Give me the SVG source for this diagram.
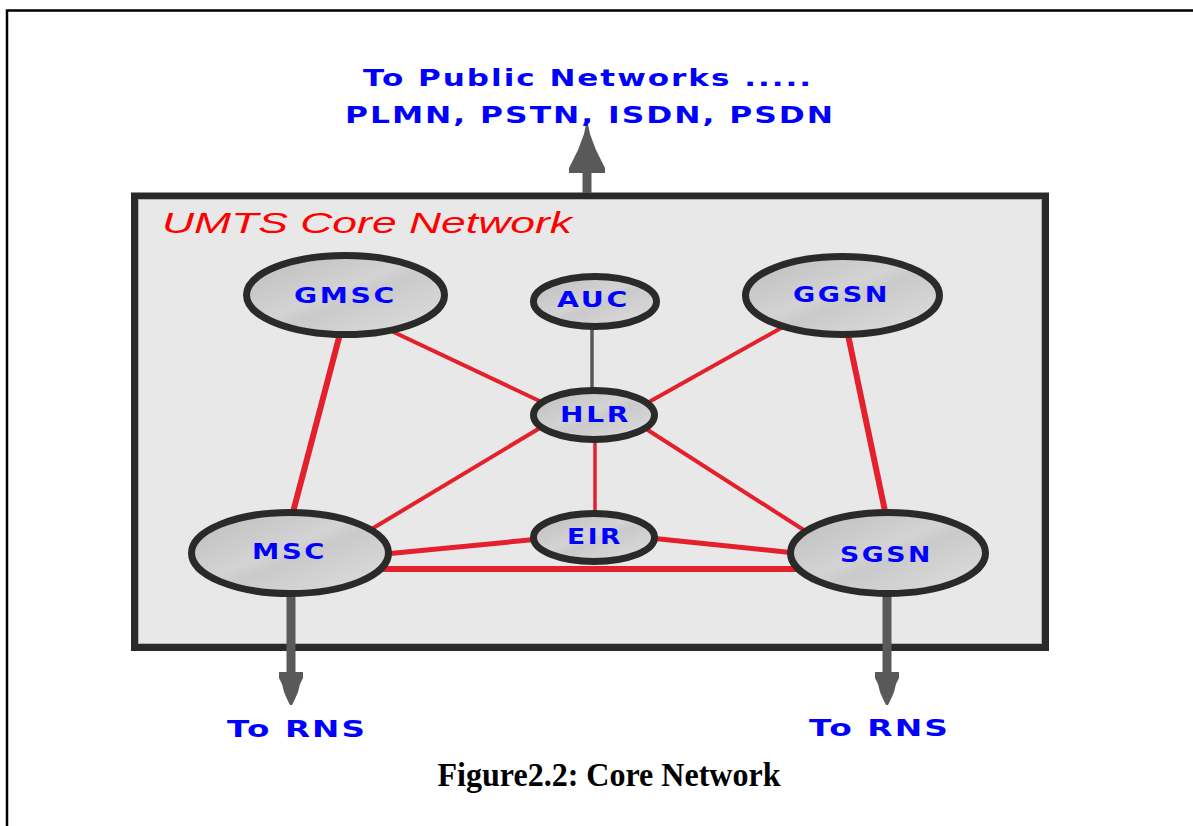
<svg xmlns="http://www.w3.org/2000/svg" width="1193" height="826" viewBox="0 0 1193 826">
<style>
.frame{fill:none;stroke:#000;stroke-width:2.5}
.node{fill:url(#ng);stroke:#2a2a28;stroke-width:7}
.lbl{font-family:"DejaVu Sans",sans-serif;font-weight:bold;font-size:21px;fill:#0000ff;text-anchor:middle;letter-spacing:2px}
.ext{font-family:"DejaVu Sans",sans-serif;font-weight:bold;font-size:23.5px;fill:#0000ff;letter-spacing:1.5px}
.red{stroke:#e3202b;fill:none;stroke-linecap:butt}
.gray{stroke:#595959;fill:none}
.head{fill:#595959}
</style>
<defs>
<linearGradient id="ng" x1="0" y1="0" x2="1" y2="1">
<stop offset="0" stop-color="#bbbcbb"/>
<stop offset="0.45" stop-color="#d2d3d2"/>
<stop offset="0.55" stop-color="#c9cac9"/>
<stop offset="1" stop-color="#dfe0df"/>
</linearGradient>
</defs>
<rect width="1193" height="826" fill="#fff"/>
<path class="frame" d="M7,826 V10.5 H1193"/>

<g id="core-network">
<rect x="134.5" y="196" width="911" height="451.5" fill="#e8e8e8" stroke="#2a2a28" stroke-width="7"/>
<rect x="138.5" y="199.5" width="903" height="444" fill="none" stroke="#b4b4b4" stroke-width="1"/>
<text x="162" y="233" font-family="Liberation Sans, Arial, sans-serif" font-style="italic" font-size="29.5" fill="#ff0000" textLength="410" lengthAdjust="spacingAndGlyphs">UMTS Core Network</text>
</g>

<g id="connectors">
<line class="gray" x1="592" y1="325" x2="592" y2="392" stroke-width="3.5"/>
<line class="red" x1="341" y1="330" x2="292" y2="516" stroke-width="6"/>
<line class="red" x1="385" y1="328" x2="548" y2="405" stroke-width="4"/>
<line class="red" x1="790" y1="323" x2="640" y2="407" stroke-width="4"/>
<line class="red" x1="847" y1="330" x2="886" y2="516" stroke-width="6"/>
<line class="red" x1="365" y1="533" x2="560" y2="416" stroke-width="4"/>
<line class="red" x1="595" y1="438" x2="595" y2="514" stroke-width="3.5"/>
<line class="red" x1="640" y1="425" x2="810" y2="534" stroke-width="4"/>
<line class="red" x1="385" y1="554" x2="540" y2="539" stroke-width="5"/>
<line class="red" x1="650" y1="538" x2="795" y2="553" stroke-width="5"/>
<line class="red" x1="375" y1="569" x2="800" y2="569" stroke-width="6"/>
</g>

<g id="arrow-public">
<line class="gray" x1="587" y1="193" x2="587" y2="165" stroke-width="9"/>
<polygon class="head" points="586,124 588,124 590,134 593,142 596,150 600,158 603,164 605,168 605,173 569,173 569,168 571,164 574,158 578,150 581,142 584,134"/>
</g>
<g id="arrow-msc">
<line class="gray" x1="291" y1="595" x2="291" y2="676" stroke-width="9"/>
<polygon class="head" points="279,672 303,672 303,678 300,684 298,692 295,699 292,705 290,705 287,699 284,692 282,684 279,678"/>
</g>
<g id="arrow-sgsn">
<line class="gray" x1="887" y1="595" x2="887" y2="676" stroke-width="9"/>
<polygon class="head" points="875,672 899,672 899,678 896,684 894,692 891,699 888,705 886,705 883,699 880,692 878,684 875,678"/>
</g>

<g id="node-gmsc">
<ellipse class="node" cx="345.5" cy="295" rx="99" ry="39.5"/>
<text class="lbl" x="345.5" y="303" textLength="103" lengthAdjust="spacingAndGlyphs">GMSC</text>
</g>
<g id="node-auc">
<ellipse class="node" cx="595" cy="301.5" rx="61.5" ry="25"/>
<text class="lbl" x="593.5" y="307" textLength="73" lengthAdjust="spacingAndGlyphs">AUC</text>
</g>
<g id="node-ggsn">
<ellipse class="node" cx="842.5" cy="295.5" rx="97" ry="39"/>
<text class="lbl" x="841.5" y="302" textLength="97" lengthAdjust="spacingAndGlyphs">GGSN</text>
</g>
<g id="node-hlr">
<ellipse class="node" cx="594" cy="415" rx="60.5" ry="24.5"/>
<text class="lbl" x="595.5" y="422" textLength="71" lengthAdjust="spacingAndGlyphs">HLR</text>
</g>
<g id="node-eir">
<ellipse class="node" cx="594" cy="537.5" rx="60.5" ry="24"/>
<text class="lbl" x="595" y="543.5" textLength="56" lengthAdjust="spacingAndGlyphs">EIR</text>
</g>
<g id="node-msc">
<ellipse class="node" cx="290" cy="553" rx="98.5" ry="40.5"/>
<text class="lbl" x="289.5" y="559" textLength="75" lengthAdjust="spacingAndGlyphs">MSC</text>
</g>
<g id="node-sgsn">
<ellipse class="node" cx="888" cy="553" rx="97.5" ry="40.5"/>
<text class="lbl" x="886.5" y="562" textLength="93" lengthAdjust="spacingAndGlyphs">SGSN</text>
</g>

<g id="labels">
<text class="ext" x="363" y="86" textLength="450" lengthAdjust="spacingAndGlyphs">To Public Networks .....</text>
<text class="ext" x="345" y="123" textLength="490" lengthAdjust="spacingAndGlyphs">PLMN, PSTN, ISDN, PSDN</text>
<text class="ext" x="227" y="737" textLength="140" lengthAdjust="spacingAndGlyphs">To RNS</text>
<text class="ext" x="809" y="736" textLength="141" lengthAdjust="spacingAndGlyphs">To RNS</text>
<text x="609" y="786" font-family="Liberation Serif, 'Times New Roman', serif" font-weight="bold" font-size="33" fill="#000" text-anchor="middle" textLength="343" lengthAdjust="spacingAndGlyphs">Figure2.2: Core Network</text>
</g>
</svg>
